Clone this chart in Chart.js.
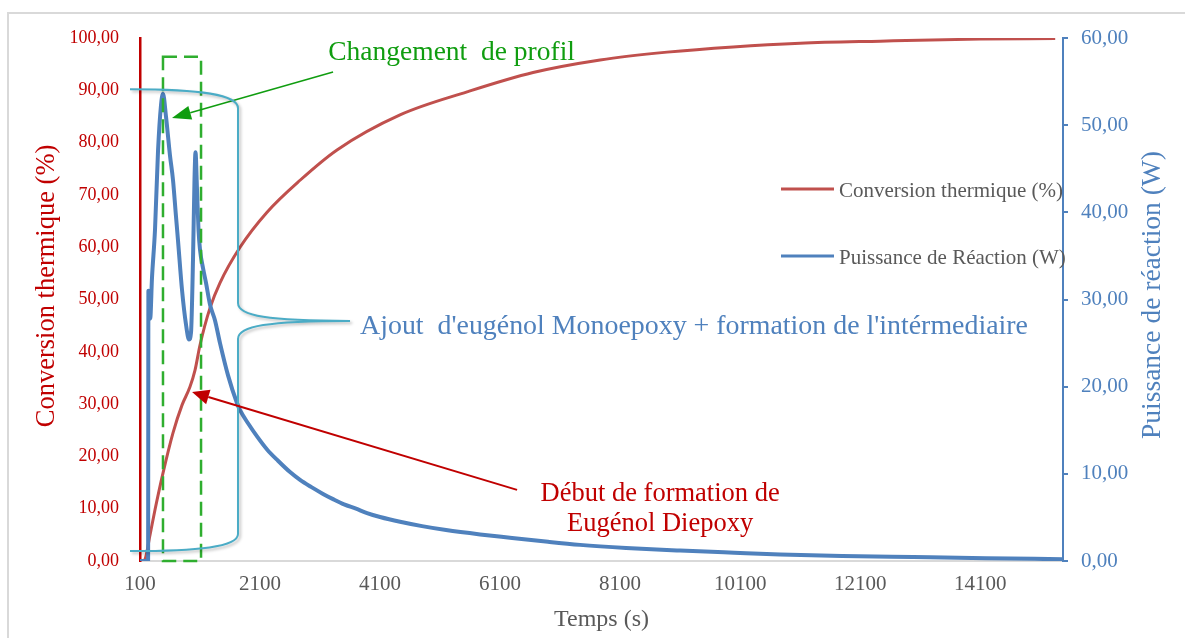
<!DOCTYPE html>
<html>
<head>
<meta charset="utf-8">
<script src="https://cdn.jsdelivr.net/npm/chart.js@4.4.1/dist/chart.umd.min.js"></script>
<style>
  html, body { margin: 0; padding: 0; background: #fff; }
  canvas { display: block; }
</style>
</head>
<body>
<canvas id="chart" width="1185" height="638"></canvas>
<script>
// Conversion thermique (%) en fonction du temps (s)
const convTemps = [150, 183, 267, 350, 483, 650, 800, 933, 1017, 1100, 1267, 1433, 1767, 2217, 2767,
  3383, 4433, 5550, 6650, 7767, 8883, 9983, 11100, 12433, 14100, 15350]
const convValeurs = [0, 0.3, 5, 9.8, 16.8, 24.5, 29.8, 33.3, 36.5, 41.3, 48.4, 53.2, 60, 66.7, 72.8,
  78.6, 85.3, 89.7, 93.4, 95.8, 97.3, 98.3, 99, 99.4, 99.8, 99.9]

// Puissance de réaction (W) en fonction du temps (s)
const puisTemps = [100, 235, 240, 255, 270, 300, 350, 400, 450, 483, 533, 600, 650, 700, 733, 800,
  867, 917, 950, 983, 1008, 1025, 1050, 1075, 1100, 1150, 1200, 1267, 1350, 1433, 1567, 1717,
  1767, 1900, 2050, 2217, 2400, 2600, 2767, 2950, 3150, 3317, 3500, 3700, 3883, 4100, 4433,
  4800, 5200, 5767, 6300, 6900, 7433, 8200, 9100, 10000, 10767, 11800, 12983, 14200, 15480]
const puisValeurs = [0, 0, 31, 29.5, 27.8, 32.5, 38, 47, 52.3, 53.6, 51, 46.5, 43.7, 39.5, 36.8, 31.1,
  27.1, 25.4, 26.2, 34.5, 43.7, 46.9, 42.6, 38, 35.7, 33.6, 31.9, 29.4, 27.6, 25, 21.3, 18.1,
  17.3, 15.8, 14.3, 12.8, 11.5, 10.2, 9.3, 8.5, 7.7, 7.1, 6.5, 6.0, 5.5, 5.05, 4.5,
  4.0, 3.55, 3.05, 2.65, 2.2, 1.85, 1.5, 1.2, 0.95, 0.75, 0.58, 0.45, 0.32, 0.2]

const tempsTicks = [100, 2100, 4100, 6100, 8100, 10100, 12100, 14100]

const ROUGE = '#c00000'
const BLEU = '#4f81bd'
const GRIS = '#595959'
const SERIF = '"Liberation Serif", "Times New Roman", serif'

const virgule = v => Number(v).toFixed(2).replace('.', ',')

function fleche(ctx, x1, y1, x2, y2, color, width, headLen, headWidth) {
  const a = Math.atan2(y2 - y1, x2 - x1)
  const bx = x2 - headLen * Math.cos(a)
  const by = y2 - headLen * Math.sin(a)
  ctx.strokeStyle = color
  ctx.lineWidth = width
  ctx.beginPath()
  ctx.moveTo(x1, y1)
  ctx.lineTo(bx, by)
  ctx.stroke()
  ctx.fillStyle = color
  ctx.beginPath()
  ctx.moveTo(x2, y2)
  ctx.lineTo(bx + headWidth / 2 * Math.sin(a), by - headWidth / 2 * Math.cos(a))
  ctx.lineTo(bx - headWidth / 2 * Math.sin(a), by + headWidth / 2 * Math.cos(a))
  ctx.closePath()
  ctx.fill()
}

// cadre, titres des axes verticaux et légende
const habillage = {
  id: 'habillage',
  beforeDraw(chart) {
    const { ctx, width, height } = chart
    ctx.save()
    ctx.strokeStyle = '#d9d9d9'
    ctx.lineWidth = 2
    ctx.beginPath()
    ctx.moveTo(8, height)
    ctx.lineTo(8, 13)
    ctx.lineTo(width, 13)
    ctx.stroke()
    ctx.restore()
  },
  afterDraw(chart) {
    const { ctx, chartArea } = chart
    ctx.save()
    ctx.textAlign = 'center'
    ctx.textBaseline = 'middle'

    ctx.save()
    ctx.translate(47, chartArea.top + 248)
    ctx.rotate(-Math.PI / 2)
    ctx.fillStyle = ROUGE
    ctx.font = '26.5px ' + SERIF
    ctx.fillText('Conversion thermique (%)', 0, 0)
    ctx.restore()

    ctx.save()
    ctx.translate(chartArea.right + 90, chartArea.top + 257)
    ctx.rotate(-Math.PI / 2)
    ctx.fillStyle = BLEU
    ctx.font = '27.5px ' + SERIF
    ctx.fillText('Puissance de réaction (W)', 0, 0)
    ctx.restore()

    // légende
    const lx = chartArea.right - 282
    const rows = [chartArea.top + 151, chartArea.top + 218]
    ctx.textAlign = 'left'
    ctx.font = '21px ' + SERIF
    chart.data.datasets.forEach((ds, i) => {
      ctx.strokeStyle = ds.borderColor
      ctx.lineWidth = 3
      ctx.beginPath()
      ctx.moveTo(lx, rows[i])
      ctx.lineTo(lx + 53, rows[i])
      ctx.stroke()
      ctx.fillStyle = GRIS
      ctx.fillText(ds.label, lx + 58, rows[i] + 2)
    })
    ctx.restore()
  }
}

// encadré, flèches, accolade et commentaires
const commentaires = {
  id: 'commentaires',
  afterDatasetsDraw(chart) {
    const { ctx } = chart
    const px = v => chart.scales.x.getPixelForValue(v)
    const py = v => chart.scales.y.getPixelForValue(v)
    ctx.save()

    // zone de changement de profil
    ctx.strokeStyle = '#2fae2f'
    ctx.lineWidth = 2.5
    ctx.setLineDash([14, 7])
    ctx.strokeRect(px(483), py(96.4), px(1117) - px(483), py(0) - py(96.4))
    ctx.setLineDash([])

    fleche(ctx, px(3317), py(93.5), px(633), py(84.7), '#109d10', 1.5, 19, 14)
    ctx.fillStyle = '#109d10'
    ctx.font = '27.5px ' + SERIF
    ctx.textAlign = 'center'
    ctx.textBaseline = 'middle'
    ctx.fillText('Changement  de profil', px(5292), py(97.1))

    // accolade
    const xa = px(-67), xs = px(1733), xt = px(3600)
    const yt = py(90.2), yb = py(1.9), ym = py(45.9)
    ctx.save()
    ctx.shadowColor = 'rgba(0,0,0,0.25)'
    ctx.shadowBlur = 3
    ctx.shadowOffsetX = 2
    ctx.shadowOffsetY = 2
    ctx.strokeStyle = '#4bacc6'
    ctx.lineWidth = 2
    ctx.beginPath()
    ctx.moveTo(xa, yt)
    ctx.bezierCurveTo(xs - 38, yt, xs, yt + 5, xs, yt + 19)
    ctx.lineTo(xs, ym - 18)
    ctx.bezierCurveTo(xs, ym - 5, xs + 30, ym, xt, ym)
    ctx.moveTo(xt, ym)
    ctx.bezierCurveTo(xs + 30, ym, xs, ym + 5, xs, ym + 18)
    ctx.lineTo(xs, yb - 17)
    ctx.bezierCurveTo(xs, yb - 4, xs - 40, yb, xa, yb)
    ctx.stroke()
    ctx.restore()

    ctx.fillStyle = BLEU
    ctx.textAlign = 'left'
    ctx.font = '27.9px ' + SERIF
    ctx.fillText("Ajout  d'eugénol Monoepoxy + formation de l'intérmediaire", px(3767), py(44.9))

    // début de formation du diepoxy
    fleche(ctx, px(6383), py(13.6), px(967), py(32.3), ROUGE, 2, 17, 15)
    ctx.fillStyle = ROUGE
    ctx.font = '26.5px ' + SERIF
    ctx.textAlign = 'center'
    ctx.fillText('Début de formation de', px(8767), py(12.8))
    ctx.fillText('Eugénol Diepoxy', px(8767), py(7.1))

    ctx.restore()
  }
}

const chart = new Chart(document.getElementById('chart'), {
  type: 'line',
  data: {
    datasets: [
      {
        label: 'Conversion thermique (%)',
        data: convTemps.map((t, i) => ({ x: t, y: convValeurs[i] })),
        yAxisID: 'y',
        borderColor: '#c0504d',
        borderWidth: 3,
        pointRadius: 0,
        cubicInterpolationMode: 'monotone',
        order: 1,
      },
      {
        label: 'Puissance de Réaction (W)',
        data: puisTemps.map((t, i) => ({ x: t, y: puisValeurs[i] })),
        yAxisID: 'y1',
        borderColor: BLEU,
        borderWidth: 4,
        pointRadius: 0,
        cubicInterpolationMode: 'monotone',
        order: 0,
      },
    ],
  },
  options: {
    responsive: false,
    animation: false,
    events: [],
    layout: { padding: { top: 38, left: 0, right: 0, bottom: 0 } },
    plugins: {
      legend: { display: false },
      tooltip: { enabled: false },
    },
    scales: {
      x: {
        type: 'linear',
        position: 'bottom',
        min: 100,
        max: 15480,
        afterBuildTicks: scale => { scale.ticks = tempsTicks.map(v => ({ value: v })) },
        afterFit: scale => { scale.height = 77 },
        grid: { drawOnChartArea: false, drawTicks: false },
        border: { color: '#d9d9d9', width: 2 },
        ticks: {
          autoSkip: false,
          maxRotation: 0,
          padding: 11,
          color: GRIS,
          font: { family: SERIF, size: 21 },
          callback: v => String(v),
        },
        title: {
          display: true,
          text: 'Temps (s)',
          color: GRIS,
          font: { family: SERIF, size: 24 },
          padding: { top: 0, bottom: 4 },
        },
      },
      y: {
        type: 'linear',
        position: 'left',
        min: 0,
        max: 100,
        afterFit: scale => { scale.width = 140 },
        grid: { drawOnChartArea: false, drawTicks: false },
        border: { color: ROUGE, width: 2.5 },
        ticks: {
          stepSize: 10,
          padding: 21,
          color: ROUGE,
          font: { family: SERIF, size: 18 },
          callback: virgule,
        },
      },
      y1: {
        type: 'linear',
        position: 'right',
        min: 0,
        max: 60,
        afterFit: scale => { scale.width = 122 },
        grid: { drawOnChartArea: false, drawTicks: true, tickLength: 5, color: BLEU, lineWidth: 2 },
        border: { color: BLEU, width: 2 },
        ticks: {
          stepSize: 10,
          padding: 13,
          color: BLEU,
          font: { family: SERIF, size: 21 },
          callback: virgule,
        },
      },
    },
  },
  plugins: [habillage, commentaires],
})
</script>
</body>
</html>
